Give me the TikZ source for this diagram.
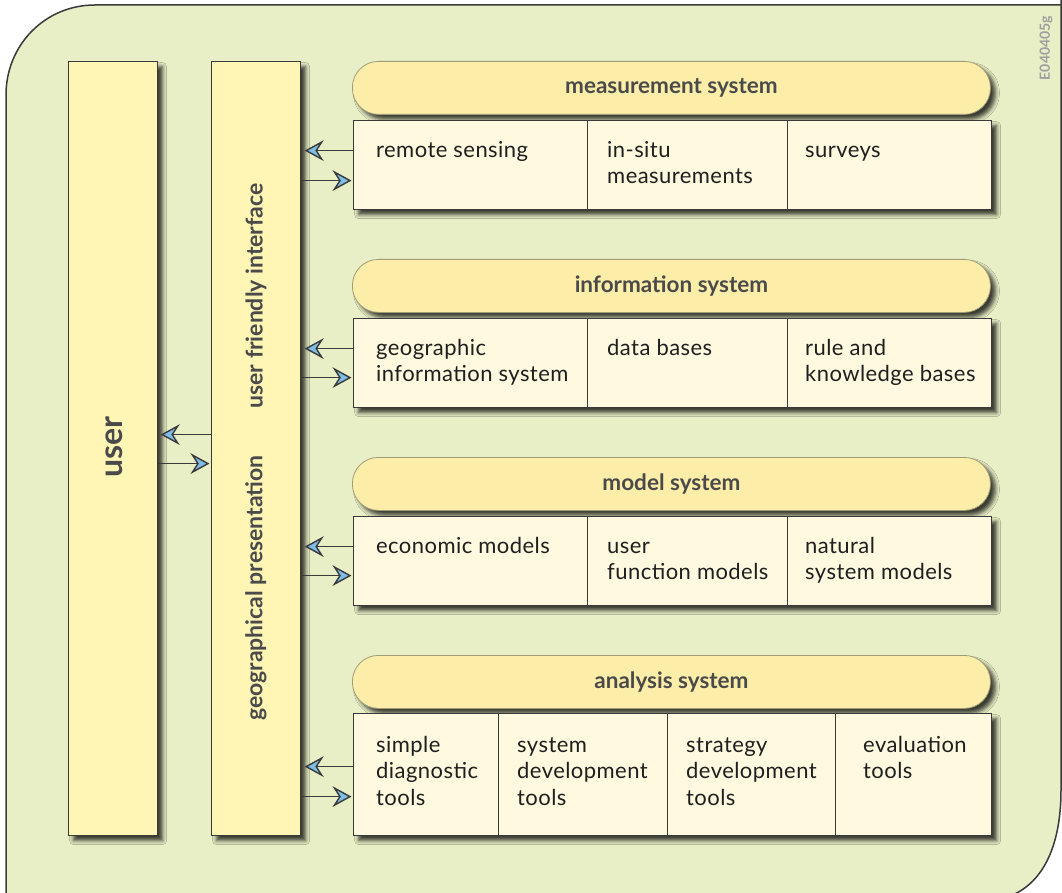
\documentclass[tikz,border=0pt]{standalone}
\usepackage{fontspec}
\setmainfont{Lato}
\newfontfamily\cellfont[LetterSpace=2]{Lato}
\usetikzlibrary{decorations.markings,shadows.blur}
\definecolor{bgc}{HTML}{E8EEC5}
\definecolor{tallc}{HTML}{FFF5B4}
\definecolor{capc}{HTML}{FCEEA8}
\definecolor{capl}{HTML}{A09C78}
\definecolor{cellc}{HTML}{FEF9DF}
\definecolor{linec}{HTML}{3A3A3A}
\definecolor{arrc}{HTML}{7DBDE6}
\definecolor{headc}{HTML}{4A4A4A}
\begin{document}
\begin{tikzpicture}[x=1pt,y=-1pt,
  shad/.style={blur shadow={shadow xshift=5pt,shadow yshift=-5pt,shadow blur radius=4pt,shadow opacity=75}},
  tallbox/.style={draw=linec,line width=1.2pt,fill=tallc,anchor=north west,inner sep=0pt,minimum width=89pt,minimum height=774pt,shad},
  capsule/.style={draw=capl,line width=0.8pt,fill=capc,rounded corners=26pt,anchor=north west,inner sep=0pt,minimum width=638pt,minimum height=53pt,shad},
  rowbox/.style={draw=linec,line width=1.2pt,fill=cellc,anchor=north west,inner sep=0pt,minimum width=638pt,shad},
  cellbox/.style={draw=linec,line width=1.2pt,fill=cellc,anchor=north west,inner sep=0pt},
  txt/.style={font=\cellfont\fontsize{22}{26.5}\selectfont,text=black!88,anchor=north west,inner sep=0pt,align=left},
  headtxt/.style={font=\bfseries\fontsize{22.5}{26}\selectfont,text=headc},
  vert/.style={rotate=90,font=\bfseries\fontsize{23}{26}\selectfont,text=headc},
  arr/.style={draw=linec,line width=1.2pt,postaction={decorate,decoration={markings,
      mark=at position 1 with {\filldraw[fill=arrc,draw=linec,line width=1.4pt,line join=miter] (0,0) -- (-15.5,8.5) -- (-10,0) -- (-15.5,-8.5) -- cycle;}}}}
]
\useasboundingbox (0,0) rectangle (1062,893);
\clip (0,0) rectangle (1062,893);
% background
\path[fill=bgc] (6,900) -- (6,95) .. controls (6,45) and (45,5) .. (95,5) -- (1061,5) -- (1061,790) .. controls (1061,850) and (1040,893) .. (995,900) -- cycle;
\draw[linec,line width=1.5pt] (6,900) -- (6,95) .. controls (6,45) and (45,5) .. (95,5) -- (1070,5);
\draw[linec,line width=1.5pt] (1061,0) -- (1061,790) .. controls (1061,850) and (1040,893) .. (995,900);
\node[rotate=90,font=\bfseries\fontsize{14}{16}\selectfont,text=gray!75] (code) at (1046,48) {E040405g};

% tall boxes
\node[tallbox] (user) at (68,61) {};
\node[tallbox] (iface) at (211,61) {};
\node[rotate=90,font=\bfseries\fontsize{32}{36}\selectfont,text=headc] (userl) at (114,447) {user};
\node[vert] (ifl1) at (256,296) {user friendly interface};
\node[vert] (ifl2) at (256,588) {geographical presentation};

% measurement system
\node[capsule] (cap1) at (352,61) {};
\node[headtxt] (h1) at (cap1.center) {measurement system};
\node[rowbox,minimum height=89pt] (row1) at (353,120) {};
\node[cellbox,minimum width=234pt,minimum height=89pt] (c11) at (353,120) {};
\node[cellbox,minimum width=200pt,minimum height=89pt] (c12) at (587,120) {};
\node[cellbox,minimum width=204pt,minimum height=89pt] (c13) at (787,120) {};
\node[txt] (t11) at (376,138.5) {\strut remote sensing};
\node[txt] (t12) at (607,138.5) {\strut in-situ\\measurements};
\node[txt] (t13) at (805,138.5) {\strut surveys};

% information system
\node[capsule] (cap2) at (352,259) {};
\node[headtxt] (h2) at (cap2.center) {information system};
\node[rowbox,minimum height=89pt] (row2) at (353,318) {};
\node[cellbox,minimum width=234pt,minimum height=89pt] (c21) at (353,318) {};
\node[cellbox,minimum width=200pt,minimum height=89pt] (c22) at (587,318) {};
\node[cellbox,minimum width=204pt,minimum height=89pt] (c23) at (787,318) {};
\node[txt] (t21) at (376,336.5) {\strut geographic\\information system};
\node[txt] (t22) at (607,336.5) {\strut data bases};
\node[txt] (t23) at (805,336.5) {\strut rule and\\knowledge bases};

% model system
\node[capsule] (cap3) at (352,457) {};
\node[headtxt] (h3) at (cap3.center) {model system};
\node[rowbox,minimum height=89pt] (row3) at (353,516) {};
\node[cellbox,minimum width=234pt,minimum height=89pt] (c31) at (353,516) {};
\node[cellbox,minimum width=200pt,minimum height=89pt] (c32) at (587,516) {};
\node[cellbox,minimum width=204pt,minimum height=89pt] (c33) at (787,516) {};
\node[txt] (t31) at (376,534.5) {\strut economic models};
\node[txt] (t32) at (607,534.5) {\strut user\\function models};
\node[txt] (t33) at (805,534.5) {\strut natural\\system models};

% analysis system
\node[capsule] (cap4) at (352,655) {};
\node[headtxt] (h4) at (cap4.center) {analysis system};
\node[rowbox,minimum height=122pt] (row4) at (353,713) {};
\node[cellbox,minimum width=145pt,minimum height=122pt] (c41) at (353,713) {};
\node[cellbox,minimum width=169pt,minimum height=122pt] (c42) at (498,713) {};
\node[cellbox,minimum width=168pt,minimum height=122pt] (c43) at (667,713) {};
\node[cellbox,minimum width=156pt,minimum height=122pt] (c44) at (835,713) {};
\node[txt] (t41) at (376,733.5) {\strut simple\\diagnostic\\tools};
\node[txt] (t42) at (517,733.5) {\strut system\\development\\tools};
\node[txt] (t43) at (686,733.5) {\strut strategy\\development\\tools};
\node[txt] (t44) at (863,733.5) {\strut evaluation\\tools};

% connectors
\draw[arr] ([yshift=14.5pt]row1.west) -- ([yshift=14.5pt,xshift=5pt]row1.west -| iface.east);
\draw[arr] ([yshift=-15.5pt]row1.west -| iface.east) -- ([yshift=-15.5pt,xshift=-3pt]row1.west);
\draw[arr] ([yshift=14.5pt]row2.west) -- ([yshift=14.5pt,xshift=5pt]row2.west -| iface.east);
\draw[arr] ([yshift=-14.5pt]row2.west -| iface.east) -- ([yshift=-14.5pt,xshift=-3pt]row2.west);
\draw[arr] ([yshift=14.5pt]row3.west) -- ([yshift=14.5pt,xshift=5pt]row3.west -| iface.east);
\draw[arr] ([yshift=-14.5pt]row3.west -| iface.east) -- ([yshift=-14.5pt,xshift=-3pt]row3.west);
\draw[arr] ([yshift=8pt]row4.west) -- ([yshift=8pt,xshift=5pt]row4.west -| iface.east);
\draw[arr] ([yshift=-22pt]row4.west -| iface.east) -- ([yshift=-22pt,xshift=-3pt]row4.west);
\draw[arr] ([yshift=14pt]iface.west) -- ([yshift=14pt,xshift=4pt]iface.west -| user.east);
\draw[arr] ([yshift=-15pt]user.east) -- ([yshift=-15pt,xshift=-3pt]user.east -| iface.west);
\end{tikzpicture}
\end{document}
